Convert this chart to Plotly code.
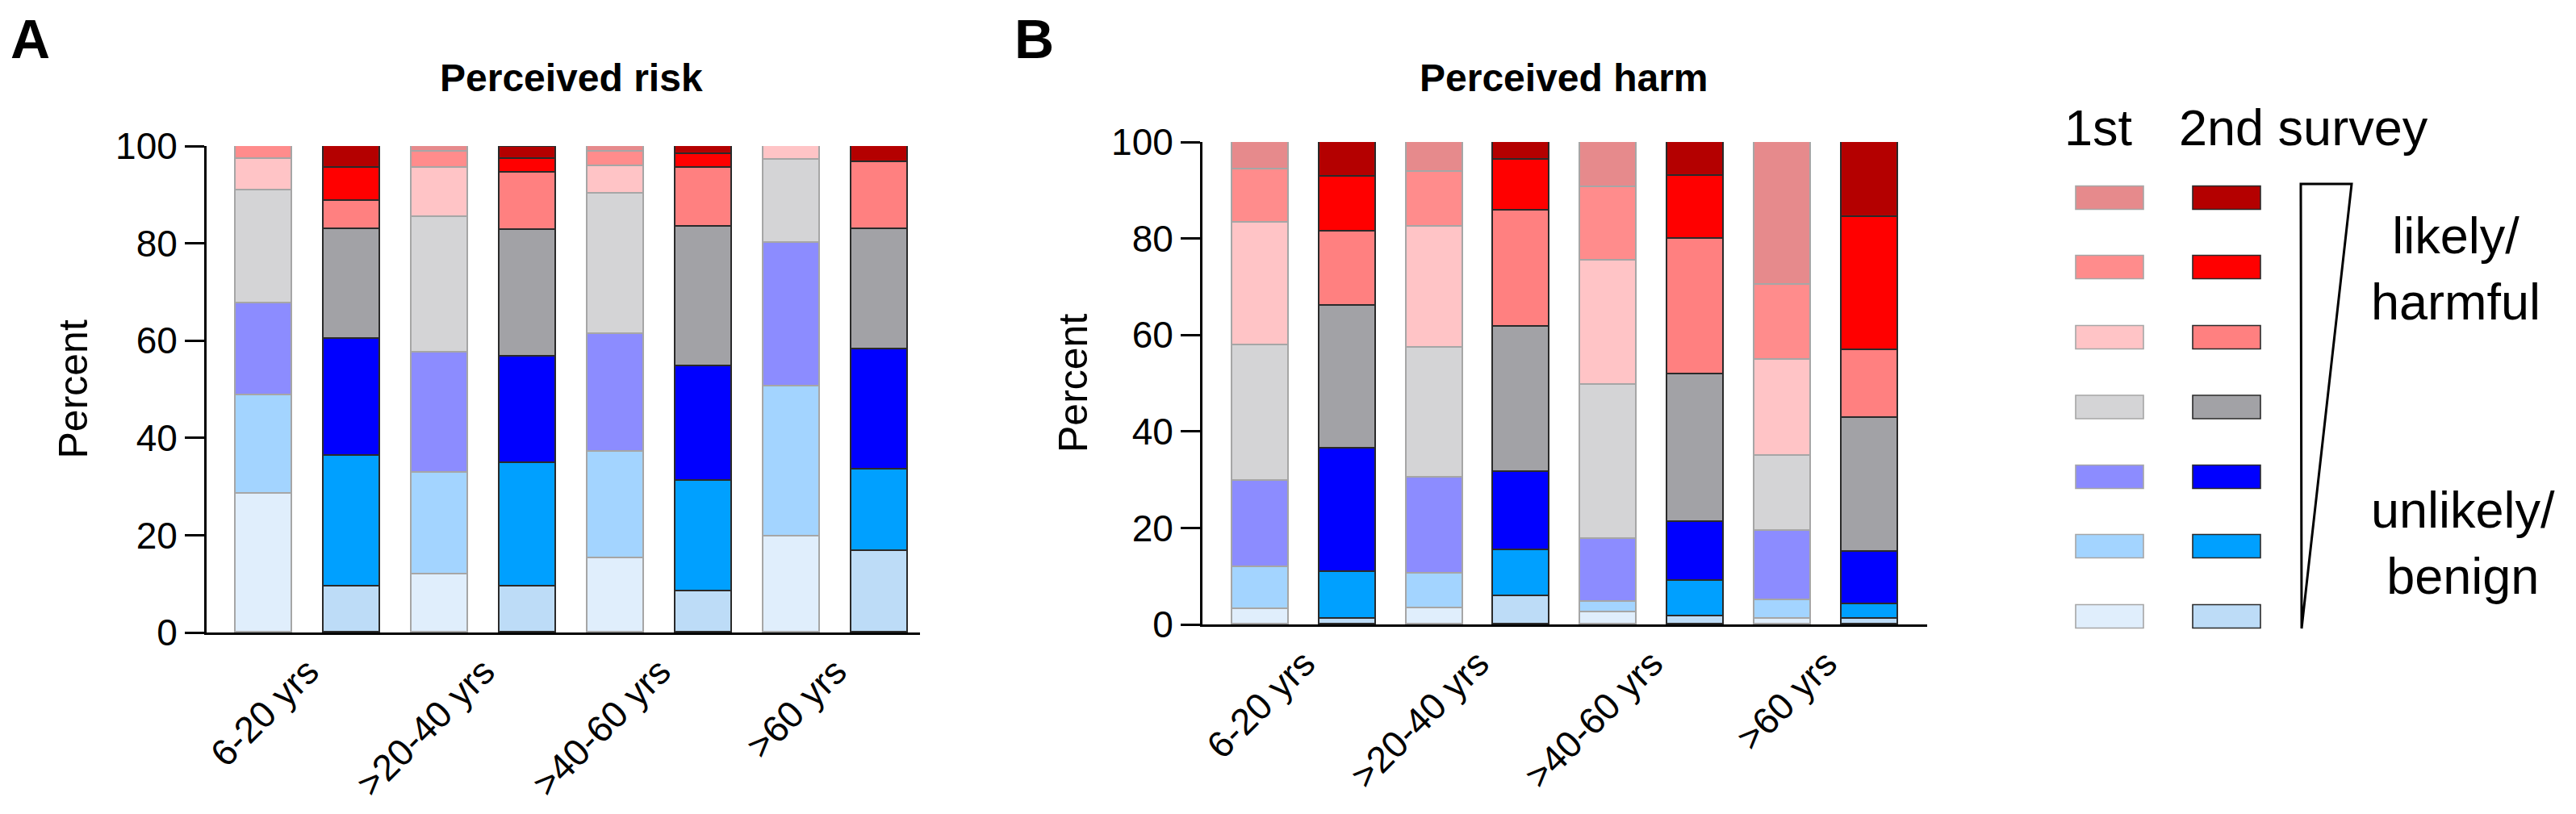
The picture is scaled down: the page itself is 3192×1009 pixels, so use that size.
import plotly.graph_objects as go

W, H = 3192, 1009
OFF = 8  # default page margin of the html body, compensated below

# ---------------- data ----------------
age_groups = ["6-20 yrs", ">20-40 yrs", ">40-60 yrs", ">60 yrs"]
# answer levels, bottom of stack (unlikely/benign) -> top (likely/harmful)
levels = ["level 1", "level 2", "level 3", "level 4", "level 5", "level 6", "level 7"]

# Perceived risk (%), per age group, levels bottom -> top
risk_1st_6_20 = [28.6, 20.1, 18.9, 23.3, 6.5, 2.6, 0.0]
risk_2nd_6_20 = [9.5, 26.8, 24.1, 22.6, 5.7, 6.9, 4.4]
risk_1st_20_40 = [11.9, 21.0, 24.6, 27.9, 10.2, 3.2, 1.2]
risk_2nd_20_40 = [9.4, 25.5, 21.8, 26.1, 11.7, 2.8, 2.5]
risk_1st_40_60 = [15.2, 22.0, 24.1, 28.9, 5.6, 3.1, 1.1]
risk_2nd_40_60 = [8.4, 22.8, 23.5, 28.7, 12.2, 2.8, 1.6]
risk_1st_60 = [19.7, 30.8, 29.6, 17.0, 2.9, 0.0, 0.0]
risk_2nd_60 = [16.7, 16.8, 24.7, 24.8, 13.7, 0.0, 3.3]

# Perceived harm (%), per age group, levels bottom -> top
harm_1st_6_20 = [3.1, 8.8, 17.9, 28.0, 25.5, 11.0, 5.7]
harm_2nd_6_20 = [1.1, 9.8, 25.5, 29.7, 15.3, 11.4, 7.2]
harm_1st_20_40 = [3.3, 7.3, 19.8, 26.9, 25.1, 11.4, 6.2]
harm_2nd_20_40 = [5.8, 9.6, 16.2, 30.1, 24.1, 10.5, 3.7]
harm_1st_40_60 = [2.5, 2.2, 13.0, 31.9, 25.9, 15.2, 9.3]
harm_2nd_40_60 = [1.7, 7.3, 12.2, 30.7, 28.1, 12.9, 7.1]
harm_1st_60 = [1.2, 3.9, 14.3, 15.6, 19.8, 15.6, 29.6]
harm_2nd_60 = [1.2, 3.0, 10.8, 27.8, 14.1, 27.5, 15.6]

y_ticks = [0, 20, 40, 60, 80, 100]

first_colors = ["#E0EEFC", "#A3D4FF", "#8C8CFF", "#D4D4D6", "#FFC4C6", "#FF8C8C", "#E68A8C"]
second_colors = ["#BDDCF7", "#00A0FF", "#0000FF", "#A2A2A6", "#FF8080", "#FF0000", "#B40000"]
first_edge = "#A6A6A6"
second_edge = "#2A2A2A"

FONT = "Arial, Liberation Sans, Helvetica, sans-serif"


def px(x):
    return (x - OFF) / W


def py(y):
    return 1 - (y - OFF) / H


risk_bars = [risk_1st_6_20, risk_2nd_6_20, risk_1st_20_40, risk_2nd_20_40,
             risk_1st_40_60, risk_2nd_40_60, risk_1st_60, risk_2nd_60]
harm_bars = [harm_1st_6_20, harm_2nd_6_20, harm_1st_20_40, harm_2nd_20_40,
             harm_1st_40_60, harm_2nd_40_60, harm_1st_60, harm_2nd_60]

fig = go.Figure()
bar_x = list(range(8))
for bars, xa, ya in [(risk_bars, "x", "y"), (harm_bars, "x2", "y2")]:
    for li, lname in enumerate(levels):
        vals = [b[li] if b[li] > 0 else None for b in bars]
        cols = [first_colors[li] if i % 2 == 0 else second_colors[li] for i in range(8)]
        edges = [first_edge if i % 2 == 0 else second_edge for i in range(8)]
        fig.add_trace(go.Bar(
            x=bar_x, y=vals, name=lname, width=0.65,
            marker=dict(color=cols, line=dict(color=edges, width=1.6)),
            xaxis=xa, yaxis=ya, showlegend=False,
        ))

# panel geometry (pixels)
A_left, A_right, A_c0, A_pitch, A_top, A_bot = 256, 1140, 327, 109.0, 181, 784
B_left, B_right, B_c0, B_pitch, B_top, B_bot = 1490, 2388, 1562, 107.8, 176, 774

tick_font = dict(family=FONT, size=46, color="black")


def xaxis_cfg(left, right, c0, pitch):
    return dict(
        domain=[px(left), px(right)],
        range=[(left - c0) / pitch, (right - c0) / pitch],
        tickvals=[0.5, 2.5, 4.5, 6.5], ticktext=age_groups,
        tickangle=-45, ticks="", showline=True, linewidth=3, linecolor="black",
        showgrid=False, zeroline=False, tickfont=tick_font, fixedrange=True,
        automargin=False,
    )


def yaxis_cfg(top, bot):
    return dict(
        domain=[py(bot), py(top)], range=[0, 100],
        tickvals=y_ticks, ticks="outside", ticklen=24, tickwidth=3, tickcolor="black",
        showline=True, linewidth=3, linecolor="black", showgrid=False, zeroline=False,
        tickfont=tick_font, fixedrange=True, automargin=False,
    )


fig.update_layout(
    template="none",
    width=W, height=H, margin=dict(l=0, r=0, t=0, b=0, pad=0, autoexpand=False),
    paper_bgcolor="white", plot_bgcolor="white",
    barmode="stack", bargap=0, showlegend=False,
    font=dict(family=FONT, color="black"),
    xaxis=dict(xaxis_cfg(A_left, A_right, A_c0, A_pitch), anchor="y"),
    yaxis=dict(yaxis_cfg(A_top, A_bot), anchor="x"),
    xaxis2=dict(xaxis_cfg(B_left, B_right, B_c0, B_pitch), anchor="y2"),
    yaxis2=dict(yaxis_cfg(B_top, B_bot), anchor="x2"),
)

ann = []


def text(s, x, y, size, bold=False, xanchor="center", yanchor="middle", angle=0):
    ann.append(dict(
        text=f"<b>{s}</b>" if bold else s, x=px(x), y=py(y), xref="paper", yref="paper",
        xanchor=xanchor, yanchor=yanchor, showarrow=False, textangle=angle,
        font=dict(family=FONT, size=size, color="black"),
    ))


text("A", 11, 48, 68, bold=True, xanchor="left")
text("B", 1255, 48, 68, bold=True, xanchor="left")
text("Perceived risk", 708, 96, 48, bold=True)
text("Perceived harm", 1938, 96, 48, bold=True)
text("Percent", 90, (A_top + A_bot) / 2, 50, angle=-90)
text("Percent", 1330, (B_top + B_bot) / 2, 50, angle=-90)
text("1st", 2600, 158, 63)
text("2nd survey", 2698, 158, 63, xanchor="left")
text("likely/<br>harmful", 2936, 333, 63, xanchor="left")
text("unlikely/<br>benign", 2936, 673, 63, xanchor="left")

shapes = []
row_centers = [764, 677, 591, 504.5, 418, 331, 245]  # level 1 (bottom) -> level 7 (top)
for li in range(7):
    yc = row_centers[li]
    for (x0, x1), fillc, edge in [((2572, 2656), first_colors[li], first_edge),
                                   ((2717, 2801), second_colors[li], second_edge)]:
        shapes.append(dict(type="rect", xref="paper", yref="paper",
                           x0=px(x0), x1=px(x1), y0=py(yc + 14.5), y1=py(yc - 14.5),
                           fillcolor=fillc, line=dict(color=edge, width=1.6)))

tri = [(2851, 228), (2914, 228), (2852, 779)]
path = "M " + " L ".join(f"{px(x):.5f},{py(y):.5f}" for x, y in tri) + " Z"
shapes.append(dict(type="path", xref="paper", yref="paper", path=path,
                   line=dict(color="black", width=3), fillcolor="rgba(0,0,0,0)"))

fig.update_layout(annotations=ann, shapes=shapes)
fig.write_html("out.html")
